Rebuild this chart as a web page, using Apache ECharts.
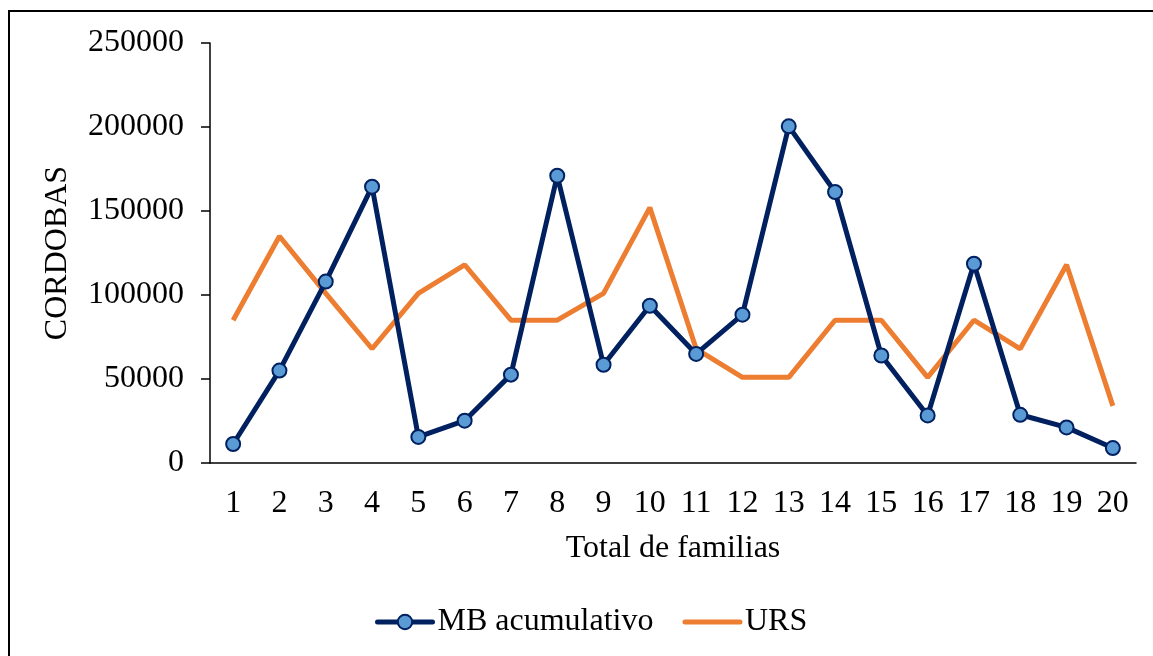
<!DOCTYPE html>
<html>
<head>
<meta charset="utf-8">
<script src="https://cdn.jsdelivr.net/npm/echarts@6/dist/echarts.min.js"></script>
<style>
  html, body { margin: 0; padding: 0; background: #fff; }
  #chart { width: 1153px; height: 656px; }
</style>
</head>
<body>
<div id="chart"></div>
<script>
// datos
const familias = ['1', '2', '3', '4', '5', '6', '7', '8', '9', '10',
  '11', '12', '13', '14', '15', '16', '17', '18', '19', '20']
const mbAcumulativo = [11300, 55000, 108000, 164500, 15500, 25200, 52600, 171000, 58500, 93600,
  64900, 88300, 200400, 161300, 64000, 28300, 118600, 28700, 21200, 8900]
const urs = [85000, 135000, 101000, 68000, 101000, 118000, 85000, 85000, 101000, 152000,
  68000, 51000, 51000, 85000, 85000, 51000, 85000, 68000, 118000, 34000]

const fuente = '"Liberation Serif", "Times New Roman", serif'
const navy = '#002060'
const naranja = '#ED7D31'
const tam = 32

const chart = echarts.init(document.getElementById('chart'))

chart.setOption({
  animation: false,
  textStyle: { fontFamily: fuente, color: '#000' },
  graphic: [{
    type: 'rect',
    shape: { x: 9, y: 11, width: 2000, height: 2000 },
    style: { fill: 'none', stroke: '#000', lineWidth: 2 },
    silent: true
  }],
  grid: { left: 210, top: 43, width: 926, height: 420 },
  legend: {
    left: 370,
    top: 601,
    itemWidth: 55,
    itemHeight: 18,
    itemGap: 29,
    lineStyle: { width: 5, cap: 'round' },
    textStyle: { fontFamily: fuente, fontSize: tam, color: '#000' },
    data: ['MB acumulativo', { name: 'URS', itemStyle: { opacity: 0 } }]
  },
  xAxis: {
    type: 'category',
    data: familias,
    boundaryGap: true,
    name: 'Total de familias',
    nameLocation: 'middle',
    nameGap: 70,
    nameTextStyle: { fontFamily: fuente, fontSize: tam, color: '#000' },
    axisLine: { lineStyle: { color: '#000', width: 1.5 } },
    axisTick: { length: 9, lineStyle: { color: '#000', width: 1.5 } },
    axisLabel: { fontFamily: fuente, fontSize: tam, color: '#000', margin: 25 }
  },
  yAxis: {
    type: 'value',
    min: 0,
    max: 250000,
    interval: 50000,
    name: 'CORDOBAS',
    nameLocation: 'middle',
    nameGap: 136,
    nameTextStyle: { fontFamily: fuente, fontSize: tam, color: '#000' },
    axisLine: { show: true, lineStyle: { color: '#000', width: 1.5 } },
    axisTick: { show: true, length: 9, lineStyle: { color: '#000', width: 1.5 } },
    axisLabel: {
      fontFamily: fuente, fontSize: tam, color: '#000', margin: 26,
      formatter: v => String(v)
    },
    splitLine: { show: false }
  },
  series: [
    {
      name: 'MB acumulativo',
      type: 'line',
      data: mbAcumulativo,
      symbol: 'circle',
      symbolSize: 14,
      lineStyle: { color: navy, width: 5 },
      itemStyle: { color: '#5B9BD5', borderColor: navy, borderWidth: 2 },
      z: 3
    },
    {
      name: 'URS',
      type: 'line',
      data: urs,
      symbol: 'none',
      lineStyle: { color: naranja, width: 5 },
      itemStyle: { color: naranja },
      z: 2
    }
  ]
})
</script>
</body>
</html>
